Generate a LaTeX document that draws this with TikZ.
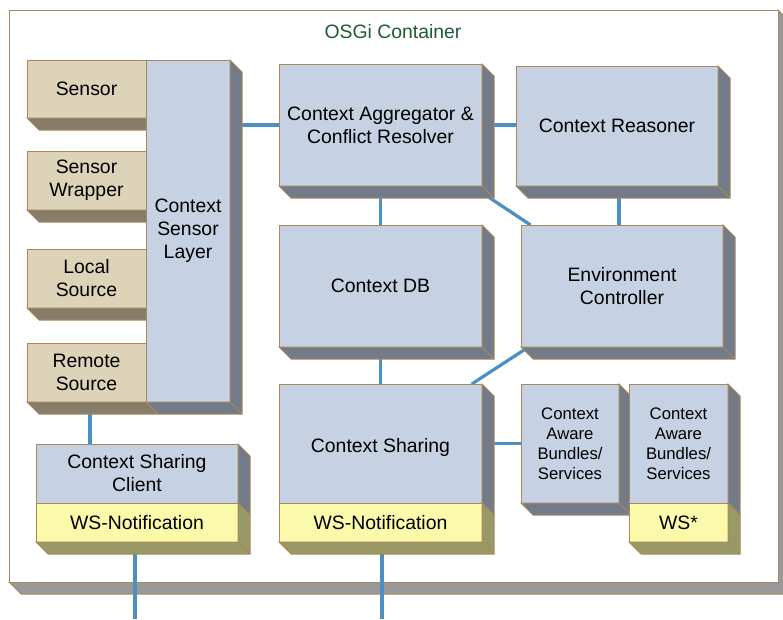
\documentclass[tikz,border=0pt]{standalone}
\usepackage{fontspec}
\setmainfont{Liberation Sans}
\usetikzlibrary{calc}
\definecolor{face}{HTML}{C6D1E3}
\definecolor{side}{HTML}{737B88}
\definecolor{tanf}{HTML}{DCD3B8}
\definecolor{tans}{HTML}{857D6A}
\definecolor{yelf}{HTML}{FAFAAA}
\definecolor{yels}{HTML}{999966}
\definecolor{edgec}{HTML}{A8895C}
\definecolor{contside}{HTML}{999999}
\definecolor{linkc}{HTML}{4A8FC6}
\definecolor{titlec}{HTML}{1F5B36}
\pgfdeclarelayer{bg}\pgfdeclarelayer{links}\pgfsetlayers{bg,links,main}
\tikzset{
 boxbase/.style={draw=edgec, line width=1pt, outer sep=0pt, inner sep=0pt, align=center, font=\fontsize{19.4}{23}\selectfont, text=black},
 bluebox/.style={boxbase, fill=face},
 tanbox/.style={boxbase, fill=tanf},
 yelbox/.style={boxbase, fill=yelf},
 smallbox/.style={bluebox, font=\fontsize{16.7}{20}\selectfont},
 link/.style={draw=linkc, line width=3.2pt},
 sidepart/.style={draw=edgec, line width=1pt, line join=miter},
}
\newcommand\xtrL[2]{\filldraw[sidepart, fill=#2] (#1.north east) -- ++(12,12) -- ($(#1.south east)+(12,12)$) -- ($(#1.south west)+(12,12)$) -- (#1.south west) -- (#1.south east) -- cycle; \draw[sidepart] (#1.south east) -- ++(12,12);}
\newcommand\xtrR[2]{\filldraw[sidepart, fill=#2] (#1.north east) -- ++(12,12) -- ($(#1.south east)+(12,12)$) -- (#1.south east) -- cycle;}
\newcommand\xtrB[2]{\filldraw[sidepart, fill=#2] (#1.south west) -- ++(12,12) -- ($(#1.south east)+(12,12)$) -- (#1.south east) -- cycle;}
\begin{document}
\begin{tikzpicture}[x=1pt,y=-1pt]
\useasboundingbox (0,0) rectangle (783,619);
\begin{pgfonlayer}{bg}
\filldraw[sidepart, fill=contside] (778,10) -- (790,22) -- (790,594) -- (21,594) -- (9,582) -- (778,582) -- cycle;
\node[draw=edgec, line width=1pt, fill=white, outer sep=0pt, minimum width=769pt, minimum height=572pt] (cont) at (393.5,296) {};
\end{pgfonlayer}
\node[text=titlec, font=\fontsize{19.4}{23}\selectfont] (title) at (393,32) {OSGi Container};
% tan sources
\node[tanbox, minimum width=119pt, minimum height=58pt] (sensor) at (86.5,89) {Sensor};
\xtrB{sensor}{tans}
\node[tanbox, minimum width=119pt, minimum height=59pt] (wrapper) at (86.5,180.5) {Sensor\\Wrapper};
\xtrB{wrapper}{tans}
\node[tanbox, minimum width=119pt, minimum height=59pt] (local) at (86.5,278.5) {Local\\Source};
\xtrB{local}{tans}
\node[tanbox, minimum width=119pt, minimum height=59pt] (remote) at (86.5,372.5) {Remote\\Source};
\xtrB{remote}{tans}
\node[bluebox, minimum width=84pt, minimum height=342pt] (layer) at (188,231) {Context\\Sensor\\Layer};
\xtrL{layer}{side}
% main boxes
\node[bluebox, minimum width=203pt, minimum height=122pt] (agg) at (380.5,125) {Context Aggregator \&\\Conflict Resolver};
\xtrL{agg}{side}
\node[bluebox, minimum width=202pt, minimum height=120pt] (reas) at (617,126) {Context Reasoner};
\xtrL{reas}{side}
\node[bluebox, minimum width=203pt, minimum height=122pt] (db) at (380.5,286) {Context DB};
\xtrL{db}{side}
\node[bluebox, minimum width=202pt, minimum height=122pt] (ec) at (622,286) {Environment\\Controller};
\xtrL{ec}{side}
\node[bluebox, minimum width=203pt, minimum height=119pt, text height=18pt, text depth=0pt] (share) at (380.5,443.5) {Context Sharing};
\xtrR{share}{side}
\node[yelbox, minimum width=203pt, minimum height=39pt] (sharews) at (380.5,522.5) {WS-Notification};
\xtrL{sharews}{yels}
\node[smallbox, minimum width=98pt, minimum height=119pt] (ca1) at (570,443.5) {Context\\Aware\\Bundles/\\Services};
\xtrL{ca1}{side}
\node[smallbox, minimum width=99pt, minimum height=119pt] (ca2) at (678.5,443.5) {Context\\Aware\\Bundles/\\Services};
\xtrR{ca2}{side}
\node[yelbox, minimum width=99pt, minimum height=39pt] (ca2ws) at (678.5,522.5) {WS*};
\xtrL{ca2ws}{yels}
\node[bluebox, minimum width=202pt, minimum height=59pt] (csc) at (137,473.5) {Context Sharing\\Client};
\xtrR{csc}{side}
\node[yelbox, minimum width=202pt, minimum height=39pt] (cscws) at (137,522.5) {WS-Notification};
\xtrL{cscws}{yels}
\coordinate (cscend) at (135,619);
\coordinate (shareend) at (382,619);
\begin{pgfonlayer}{links}
\draw[link] (layer.east |- agg) -- (agg);
\draw[link] (agg) -- (agg -| reas);
\draw[link] (agg) -- (db);
\draw[link] (agg) -- (ec);
\draw[link] ([xshift=2pt]reas.south) -- ([xshift=2pt]reas.south |- ec.north);
\draw[link] (db) -- (share);
\draw[link] (ec) -- (share);
\draw[link] (share) -- (ca1);
\draw[link] ([xshift=3.5pt]remote.south) -- ([xshift=3.5pt]remote.south |- csc.north);
\draw[link] (cscws.south -| cscend) -- (cscend);
\draw[link] (sharews.south -| shareend) -- (shareend);
\end{pgfonlayer}
\end{tikzpicture}
\end{document}
